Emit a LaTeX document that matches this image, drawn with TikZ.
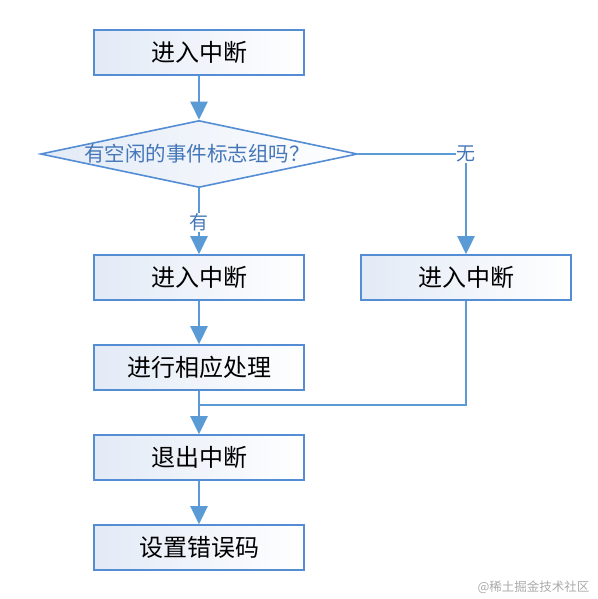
\documentclass[tikz,border=0pt]{standalone}
\usepackage{fontspec}
\newfontfamily\cjk{Noto Sans CJK SC}
\usepackage{tikz}
\usetikzlibrary{arrows.meta,shapes.geometric}

\definecolor{flowblue}{RGB}{91,155,213}
\definecolor{edgeblue}{RGB}{84,141,212}
\definecolor{textblue}{RGB}{68,118,184}
\definecolor{boxtint}{RGB}{226,234,246}
\definecolor{markgray}{RGB}{170,170,170}

\begin{document}
\begin{tikzpicture}[
						x=1pt, y=-1pt,
						every node/.style={font=\cjk},
						box/.style={draw=edgeblue, line width=1.6pt, left color=boxtint, right color=white,
							minimum width=210pt, minimum height=45pt, inner sep=0pt,
							font=\cjk\fontsize{24}{24}\selectfont},
						decision/.style={diamond, aspect=4.7, draw=edgeblue, line width=1.6pt,
							left color=boxtint, right color=white,
							minimum width=317pt, minimum height=67pt, inner sep=0pt},
						question/.style={text=textblue, inner sep=0pt, font=\cjk\fontsize{20.5}{20.5}\selectfont},
						answer/.style={text=textblue, fill=white, inner sep=1pt, font=\cjk\fontsize{19}{19}\selectfont},
						flow/.style={draw=flowblue, line width=2.6pt},
						arrow/.style={flow, -{Triangle[width=17pt,length=18pt]}}
						]
						
						% Frame
						\useasboundingbox (0,0) rectangle (597,599);
						
						% Main column
						\node[box] (enter) at (199,52.5) {进入中断};
						\node[decision] (check) at (199,154) {};
						\node[question] (checktext) at (197,154) {有空闲的事件标志组吗？};
						\node[box] (enteryes) at (199,277.5) {进入中断};
						\node[box] (handle) at (199,367.5) {进行相应处理};
						\node[box] (leave) at (199,457.5) {退出中断};
						\node[box] (errcode) at (199,547.5) {设置错误码};
						
						% Right column
						\node[box] (enterno) at (466,277.5) {进入中断};
						\coordinate (join) at (199,405);
						
						% Connectors
						\draw[arrow] (enter) -- (check);
						\draw[arrow] (check.south) -- node[answer, pos=0.52] (yes) {有} (enteryes);
						\draw[arrow] (check.east) -| node[answer, pos=0.5] (no) {无} (enterno);
						\draw[arrow] (enteryes) -- (handle);
						\draw[arrow] (handle) -- (leave);
						\draw[flow] (enterno) |- (join);
						\draw[arrow] (leave) -- (errcode);
						
						% Watermark
						\node[text=markgray, anchor=east, font=\cjk\fontsize{12.5}{12.5}\selectfont] (mark) at (593,587) {@稀土掘金技术社区};
						
					\end{tikzpicture}
\end{document}
